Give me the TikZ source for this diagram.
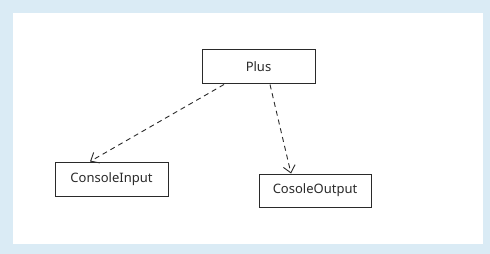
\documentclass[tikz,border=0pt]{standalone}
\usepackage{fontspec}
\setmainfont{Noto Sans}
\usetikzlibrary{arrows.meta}
\definecolor{bgblue}{HTML}{DAEBF5}
\definecolor{ink}{HTML}{2A2A2A}
\begin{document}
\begin{tikzpicture}[x=1pt,y=-1pt,
  cls/.style={draw=ink,line width=1pt,minimum width=113pt,minimum height=34pt,inner sep=0pt,font=\fontsize{13}{15}\selectfont,text=ink},
  dep/.style={draw=ink,line width=0.9pt,dash pattern=on 5pt off 4pt,-{Straight Barb[length=7pt,width=12pt]}}]
\fill[bgblue] (0,0) rectangle (490,254);
\fill[white] (13,13) rectangle (483,244);
\useasboundingbox (0,0) rectangle (490,254);
\node[cls] (plus) at (258.5,67) {Plus};
\node[cls] (cin) at (111.5,179) {ConsoleInput};
\node[cls,minimum width=112pt,minimum height=33pt] (cout) at (315,190.5) {CosoleOutput};
\draw[dep] ([xshift=-34.5pt]plus.south) -- ([xshift=-21.5pt]cin.north);
\draw[dep] ([xshift=11.5pt]plus.south) -- ([xshift=-24pt]cout.north);
\end{tikzpicture}
\end{document}
